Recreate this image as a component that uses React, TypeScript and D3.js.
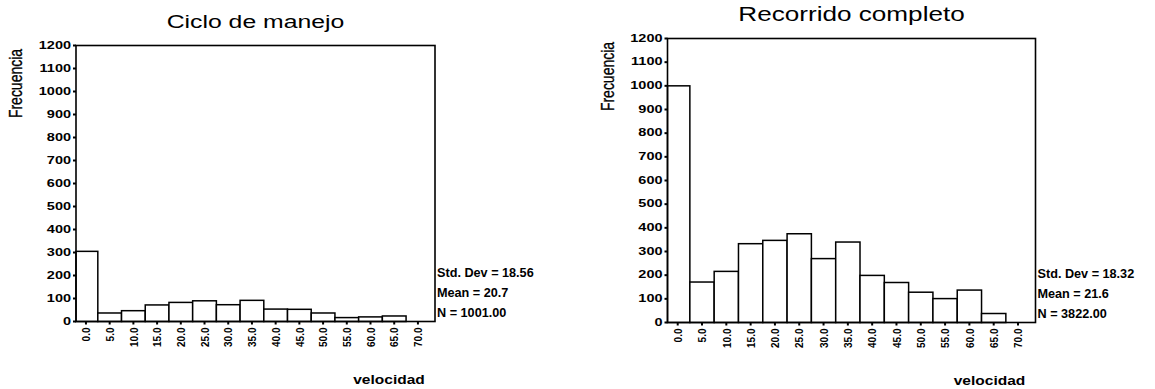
import React from "react";
import * as d3 from "d3";

const binStarts = [0, 5, 10, 15, 20, 25, 30, 35, 40, 45, 50, 55, 60, 65, 70];
const xTickLabels = ["0.0", "5.0", "10.0", "15.0", "20.0", "25.0", "30.0", "35.0", "40.0", "45.0", "50.0", "55.0", "60.0", "65.0", "70.0"];
const cicloCounts = [305, 37, 47, 72, 83, 90, 73, 92, 54, 53, 37, 17, 20, 24, 0];
const recorridoCounts = [1000, 171, 216, 333, 347, 375, 270, 340, 199, 169, 128, 101, 137, 38, 0];
const yTicks = [0, 100, 200, 300, 400, 500, 600, 700, 800, 900, 1000, 1100, 1200];
const cicloStats = ["Std. Dev = 18.56", "Mean = 20.7", "N = 1001.00"];
const recorridoStats = ["Std. Dev = 18.32", "Mean = 21.6", "N = 3822.00"];

const FONT = "'Liberation Sans', Arial, sans-serif";

type PanelProps = {
  title: string;
  counts: number[];
  stats: string[];
  left: number;
  right: number;
  top: number;
  bottom: number;
  titleSize: number;
};

function Panel({ title, counts, stats, left, right, top, bottom, titleSize }: PanelProps) {
  const x = d3.scaleLinear().domain([-2.1, 73.6]).range([left, right]);
  const y = d3.scaleLinear().domain([0, 1200]).range([bottom, top]);
  const half = 2.5;
  const cx = (left + right) / 2;
  return (
    <g>
      <text
        transform={`translate(${cx},${top - 17.5}) scale(1.34,1)`}
        textAnchor="middle"
        fontFamily={FONT}
        fontSize={titleSize}
        fill="#000"
      >
        {title}
      </text>
      <text
        transform={`translate(${left - 60},${top + 38}) rotate(-90) scale(1,1.25)`}
        textAnchor="middle"
        dominantBaseline="central"
        fontFamily={FONT}
        fontSize={14}
        fill="#000"
        stroke="#000"
        strokeWidth={0.25}
      >
        Frecuencia
      </text>
      {binStarts.map((b, i) => {
        const x0 = Math.max(x(b - half), left);
        const x1 = x(b + half);
        if (counts[i] <= 0) return null;
        return (
          <rect
            key={b}
            x={x0}
            y={y(counts[i])}
            width={x1 - x0}
            height={y(0) - y(counts[i])}
            fill="#fff"
            stroke="#000"
            strokeWidth={1.5}
          />
        );
      })}
      <rect x={left} y={top} width={right - left} height={bottom - top} fill="none" stroke="#000" strokeWidth={1.6} />
      {yTicks.map((t) => (
        <g key={t}>
          <line x1={left - 3} x2={left} y1={y(t)} y2={y(t)} stroke="#000" strokeWidth={2} />
          <text
            transform={`translate(${left - 5},${y(t)}) scale(1.45,1)`}
            textAnchor="end"
            dominantBaseline="central"
            fontFamily={FONT}
            fontWeight="bold"
            fontSize={10}
            fill="#000"
          >
            {t}
          </text>
        </g>
      ))}
      {binStarts.map((b, i) => (
        <g key={b}>
          <line x1={x(b)} x2={x(b)} y1={bottom} y2={bottom + 3} stroke="#000" strokeWidth={2} />
          <text
            transform={`translate(${x(b)},${bottom + 6}) rotate(-90) scale(1,1.1)`}
            textAnchor="end"
            dominantBaseline="central"
            fontFamily={FONT}
            fontWeight="bold"
            fontSize={10}
            fill="#000"
          >
            {xTickLabels[i]}
          </text>
        </g>
      ))}
      {stats.map((s, i) => (
        <text
          key={s}
          transform={`translate(${right + 2},${bottom - 44.8 + i * 20.3}) scale(1.03,1)`}
          fontFamily={FONT}
          fontWeight="bold"
          fontSize={12.3}
          fill="#000"
        >
          {s}
        </text>
      ))}
      <text
        transform={`translate(${right - 46},${bottom + 62}) scale(1.15,1)`}
        textAnchor="middle"
        fontFamily={FONT}
        fontWeight="bold"
        fontSize={13.5}
        fill="#000"
      >
        velocidad
      </text>
    </g>
  );
}

export default function App() {
  return (
    <svg
      width={1155}
      height={389}
      style={{ position: "absolute", left: 0, top: 0, background: "#fff" }}
    >
      <rect x={0} y={0} width={1155} height={389} fill="#fff" />
      <Panel title="Ciclo de manejo" counts={cicloCounts} stats={cicloStats} left={76} right={435} top={45.5} bottom={321.5} titleSize={18.5} />
      <Panel title="Recorrido completo" counts={recorridoCounts} stats={recorridoStats} left={667.5} right={1035.5} top={38.5} bottom={322.5} titleSize={19.5} />
    </svg>
  );
}
